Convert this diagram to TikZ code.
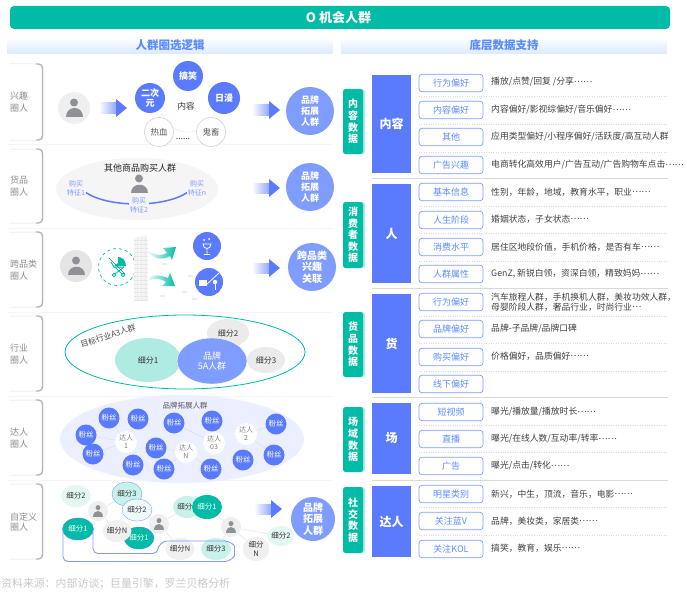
\documentclass[tikz,border=0pt]{standalone}
\usepackage{fontspec}
\setmainfont{Noto Sans CJK SC}
\usetikzlibrary{shapes.geometric,arrows.meta,shadings}
\definecolor{tealmain}{HTML}{00BBA6}
\definecolor{tealsoft}{HTML}{B0EBE2}
\definecolor{tealpale}{HTML}{E3F7F3}
\definecolor{bluemain}{HTML}{5B7BFF}
\definecolor{bluesoft}{HTML}{7F9CFF}
\definecolor{bluetext}{HTML}{5B8CFF}
\definecolor{bandblue}{HTML}{DCE9FF}
\definecolor{graypale}{HTML}{EEEFF1}
\definecolor{personcol}{HTML}{8F9196}
\newcommand{\fs}[1]{\fontsize{#1}{12}\selectfont}
\newcommand{\mdots}{\raisebox{0.32em}{……}}
\tikzset{
  band/.style={inner sep=0pt,text=bluetext,font=\fs{11.5}\bfseries},
  rowlabel/.style={anchor=west,inner sep=0pt,align=left,text=black!45,font=\fontsize{9}{12.5}\selectfont},
  brandnode/.style={circle,fill=bluesoft,text=white,minimum size=48pt,inner sep=0pt,align=center,font=\fontsize{9}{11}\selectfont\bfseries},
  topicnode/.style={circle,fill=bluemain,text=white,minimum size=30pt,inner sep=0pt,align=center,font=\fontsize{9}{10.5}\selectfont\bfseries},
  topicpale/.style={circle,draw=black!25,fill=white,text=black!65,minimum size=29pt,inner sep=0pt,font=\fs{8.5}},
  buylabel/.style={inner sep=1pt,fill=black!4,text=bluesoft,align=center,font=\fontsize{7}{9}\selectfont},
  plain/.style={inner sep=0pt,text=black!80,font=\fs{8.5}},
  segnode/.style={ellipse,inner sep=0pt,text=black!80,align=center,font=\fontsize{7.5}{9}\selectfont},
  fannode/.style={circle,fill=bluemain,text=white,minimum size=21pt,inner sep=0pt,font=\fs{7.5}},
  hubnode/.style={circle,fill=white,text=black!50,minimum size=22pt,inner sep=0pt,align=center,font=\fontsize{7}{8}\selectfont},
  linkline/.style={draw=black!12,line width=0.5pt},
  persondisc/.style={circle,fill=graypale,minimum size=20pt,inner sep=0pt},
  datatag/.style={rounded corners=2.5pt,fill=tealmain,text=white,minimum width=20pt,inner sep=0pt,align=center,font=\fontsize{10}{11.6}\selectfont\bfseries},
  column/.style={fill=bluemain,text=white,minimum width=39pt,inner sep=0pt,font=\fs{12}\bfseries},
  pill/.style={draw=bluesoft,line width=0.7pt,rounded corners=3pt,fill=white,text=bluetext,minimum width=64pt,minimum height=17.5pt,inner sep=0pt,font=\fs{9}},
  desc/.style={anchor=west,inner sep=0pt,align=left,text=black!75,font=\fontsize{8.8}{10.5}\selectfont},
  personpic/.pic={
    \fill[personcol] (0,-5.5) circle (4);
    \fill[personcol] (-8.5,9) .. controls (-8.5,-2.5) and (8.5,-2.5) .. (8.5,9) -- cycle;
  }
}
\newcommand{\bigarrow}[2]{%
  \shade[left color=white,right color=bluemain!70] (#1-28,#2-5) rectangle (#1-10,#2+5);
  \fill[bluemain] (#1-11,#2-9) -- (#1,#2) -- (#1-11,#2+9) -- cycle;
}
\newcommand{\rowbox}[2]{%
  \draw[black!12,line width=0.5pt,rounded corners=4pt] (10,#1) -- (43,#1) -- (43,#2) -- (10,#2);
  \draw[black!28,line width=1.4pt,rounded corners=4pt] (36,#1) -- (42.5,#1) -- (42.5,#2) -- (36,#2);
}
\newcommand{\tagback}[2]{%
  \fill[tealsoft,rounded corners=2.5pt] (345,#1) rectangle (365,#2);
}
\begin{document}
\begin{tikzpicture}[x=1pt,y=-1pt]
\useasboundingbox (0,0) rectangle (687,599);
\node[rounded corners=4pt,fill=tealmain,text=white,minimum width=660pt,minimum height=23pt,inner sep=0pt,font=\fs{13}\bfseries] (title) at (340,17.5) {\hspace*{-3pt}O 机会人群};
\shade[top color=white,bottom color=bandblue] (7,37) rectangle (333,54);
\shade[top color=white,bottom color=bandblue] (341,37) rectangle (667,54);
\node[band] (leftband) at (170,45) {人群圈选逻辑};
\node[band] (rightband) at (504,45) {底层数据支持};
\foreach \y in {144,228,312,396,480}
  \draw[black!4,line width=0.5pt] (7,\y) -- (333,\y);
\rowbox{64}{140}
\rowbox{149}{223}
\rowbox{232}{307}
\rowbox{316}{391}
\rowbox{400}{475}
\rowbox{484}{559}
\node[rowlabel] (lxq) at (10,102) {兴趣\\圈人};
\node[rowlabel] (lhp) at (10,186) {货品\\圈人};
\node[rowlabel] (lkp) at (10,270) {跨品类\\圈人};
\node[rowlabel] (lhy) at (10,354) {行业\\圈人};
\node[rowlabel] (ldr) at (10,438) {达人\\圈人};
\node[rowlabel,font=\fontsize{9}{10}\selectfont] (lzd) at (10,522) {自定义\\圈人};
\node[circle,fill=graypale,minimum size=32pt,inner sep=0pt] (p1) at (74,108) {};
\pic at (p1) {personpic};
\bigarrow{127}{108}
\node[circle,draw=tealpale,line width=0.8pt,minimum size=56pt,inner sep=0pt] (ring) at (188,104) {};
\node[topicnode] (gx) at (188,76) {搞笑};
\node[topicnode] (ecy) at (150,98) {二次\\元};
\node[topicnode,minimum size=32pt] (rm) at (224,98) {日漫};
\node[plain] (nr) at (186,106) {内容};
\node[topicpale] (rx) at (159,132) {热血};
\node[topicpale] (gc) at (211,132) {鬼畜};
\node[plain] (dots) at (183,139) {......};
\bigarrow{280}{110}
\node[brandnode] (b1) at (310,111) {品牌\\拓展\\人群};
\node[ellipse,fill=black!4,minimum width=162pt,minimum height=62pt,inner sep=0pt] (e2) at (137,189) {};
\node[inner sep=0pt,text=black!85,font=\fs{9}] (e2t) at (140,168) {其他商品购买人群};
\pic at (139,184) {personpic};
\draw[bluemain,line width=1.5pt] (85,192) .. controls (108,208) and (165,208) .. (188,192);
\node[buylabel] (t1) at (76,188) {购买\\特征1};
\node[buylabel] (t2) at (139,205) {购买\\特征2};
\node[buylabel] (tn) at (197,188) {购买\\特征n};
\bigarrow{280}{188}
\node[brandnode] (b2) at (310,187) {品牌\\拓展\\人群};
\node[circle,fill=black!10,minimum size=32pt,inner sep=0pt] (p3) at (76,266) {};
\pic at (p3) {personpic};
\node[circle,draw=tealmain,dashed,line width=0.7pt,minimum size=37pt,inner sep=0pt] (dash) at (117,267) {};
\fill[tealmain] (114,266) -- (126,266) .. controls (126,260) and (122,257) .. (118,257) -- (118,263) -- cycle;
\draw[tealmain,line width=1pt] (111,262) -- (114,267) -- (124,267);
\draw[tealmain,line width=0.8pt] (115,267) -- (122,274) (124,267) -- (115,274);
\draw[tealmain,line width=0.8pt,fill=white] (114,275) circle (1.8) (123,275) circle (1.8);
\draw[tealmain!80!black,line width=0.5pt] (109,258) -- (125,274);
\fill[black!4] (134,238) -- (147,235) -- (148,300) -- (134,300) -- cycle;
\foreach \y in {240,244,...,300}
  \draw[black!10,line width=0.4pt] (134,\y) -- (147.5,\y);
\foreach \x in {137,141,145}
  \draw[black!8,line width=0.3pt] (\x,237) -- (\x,300);
\foreach \x/\y in {162/263,182/291,192/298,160/295,188/275}
  \fill[black!7] (\x,\y) rectangle ++(5,1.5);
\shade[left color=tealmain!5,right color=tealmain] (148,250) .. controls (155,256) and (161,256) .. (167,253) -- (163,248) -- (176,247) -- (172,260) -- (170,256) .. controls (162,261) and (154,258) .. (148,253) -- cycle;
\shade[left color=tealmain!5,right color=tealmain] (148,278) .. controls (154,274) and (161,275) .. (168,278) -- (170,273) -- (175,286) -- (162,286) -- (166,282) .. controls (160,278) and (154,278) .. (148,281) -- cycle;
\node[circle,fill=bluemain,minimum size=28pt,inner sep=0pt] (wine) at (207,246) {};
\draw[white,line width=0.8pt] (203,244) .. controls (203,250) and (211,250) .. (211,244) -- cycle (207,249) -- (207,254) (204,254.5) -- (210,254.5);
\fill[white] (204,240) circle (1) (209,239) circle (1);
\node[circle,fill=bluemain,minimum size=28pt,inner sep=0pt] (golf) at (209,282) {};
\draw[white,line width=0.8pt] (219,273) -- (206,285);
\fill[white] (199,280) rectangle (207,286);
\fill[white] (215,282) circle (2.2);
\draw[white,line width=0.8pt] (215,284) -- (215,290);
\bigarrow{280}{268}
\node[brandnode,font=\fontsize{10}{11.5}\selectfont\bfseries] (b3) at (312,267) {跨品类\\兴趣\\关联};
\node[ellipse,draw=tealmain,line width=0.8pt,fill=white,minimum width=240pt,minimum height=74pt,inner sep=0pt] (e4) at (185,352) {};
\node[plain,rotate=18,text=black!70,font=\fs{8}] (e4t) at (108,336) {目标行业A3人群};
\node[segnode,fill=black!8,minimum width=42pt,minimum height=28pt,font=\fs{8}] (s2) at (228,333) {细分2};
\node[segnode,fill=black!8,minimum width=38pt,minimum height=26pt,font=\fs{8}] (s3) at (266,360) {细分3};
\node[segnode,fill=tealsoft,minimum width=66pt,minimum height=44pt,font=\fs{8}] (s1) at (148,360) {细分1};
\node[segnode,draw=white,fill=bluesoft,text=white,minimum width=70pt,minimum height=46pt,font=\fontsize{9}{10.5}\selectfont] (s5a) at (212,361) {品牌\\5A人群};
\node[ellipse,fill=bluemain!12,minimum width=244pt,minimum height=88pt,inner sep=0pt] (e5) at (182,439) {};
\node[plain,text=black!65,font=\fs{7.5}] (e5t) at (185,406) {品牌拓展人群};
\node[hubnode] (h1) at (126,442) {达人\\1};
\node[hubnode] (hn) at (186,452) {达人\\N};
\node[hubnode] (h3) at (214,443) {达人\\03};
\node[hubnode] (h2) at (246,434) {达人\\2};
\node[fannode] (f1) at (109,418) {粉丝};
\node[fannode] (f2) at (138,419) {粉丝};
\node[fannode] (f3) at (86,435) {粉丝};
\node[fannode] (f4) at (93,454) {粉丝};
\node[fannode] (f5) at (133,465) {粉丝};
\node[fannode] (f6) at (174,423) {粉丝};
\node[fannode] (f7) at (212,421) {粉丝};
\node[fannode] (f8) at (156,448) {粉丝};
\node[fannode] (f9) at (164,469) {粉丝};
\node[fannode] (f10) at (211,469) {粉丝};
\node[fannode] (f11) at (276,424) {粉丝};
\node[fannode] (f12) at (274,455) {粉丝};
\node[fannode] (f13) at (243,460) {粉丝};
\foreach \a/\b in {h1/f1,h1/f2,h1/f3,h1/f4,h1/f5,hn/f8,hn/f9,hn/f10,h3/f6,h3/f7,h2/f11,h2/f12,h2/f13}
  \draw[linkline] (\a) -- (\b);
\node[persondisc] (q1) at (98,511) {};
\node[persondisc] (q2) at (159,524) {};
\node[persondisc] (q3) at (231,527) {};
\node[segnode,fill=tealpale,minimum width=30pt,minimum height=22pt] (c1) at (76,496) {细分2};
\node[segnode,draw=bluesoft,fill=tealsoft!70,minimum width=30pt,minimum height=24pt] (c2) at (127,494) {细分3};
\node[segnode,draw=bluesoft,fill=tealpale!50,minimum width=30pt,minimum height=22pt] (c3) at (137,510) {细分2};
\node[segnode,draw=bluemain,fill=tealmain,text=white,minimum width=31pt,minimum height=22pt] (c4) at (78,529) {细分1};
\node[segnode,draw=bluemain,fill=tealmain,text=white,minimum width=30pt,minimum height=22pt] (c5) at (139,538) {细分1};
\node[segnode,fill=black!6,minimum width=26pt,minimum height=22pt] (c6) at (117,531) {细分N};
\node[segnode,fill=tealsoft!70,minimum width=28pt,minimum height=22pt,text=black!80,align=left] (c7) at (187,507) {细分\phantom{1}};
\node[segnode,fill=tealmain,text=white,minimum width=30pt,minimum height=24pt] (c8) at (207,507) {细分1};
\node[segnode,fill=black!6,minimum width=28pt,minimum height=22pt] (c9) at (180,549) {细分N};
\node[segnode,fill=tealsoft!70,minimum width=30pt,minimum height=22pt] (c10) at (216,549) {细分3};
\node[segnode,fill=black!6,minimum width=27pt,minimum height=24pt] (c11) at (256,549) {细分\\N};
\node[segnode,fill=tealpale,minimum width=26pt,minimum height=20pt] (c12) at (281,536) {细分2};
\pic[scale=0.62] at (q1) {personpic};
\pic[scale=0.62] at (q2) {personpic};
\pic[scale=0.62] at (q3) {personpic};
\foreach \a/\b in {q1/c2,q1/c6,q2/c7,q2/c9,q3/c8,q3/c10,q3/c11,q3/c12}
  \draw[linkline] (\a) -- (\b);
\draw[bluesoft,line width=0.9pt,rounded corners=5pt] (63,527) -- (63,561.5) -- (220,561.5) .. controls (230,561.5) and (234.5,556) .. (234.5,551) .. controls (234.5,545) and (229,541) .. (220,541) -- (172,541) .. controls (163,541) and (158,546) .. (158,553.5) -- (93,553.5) -- (93,530);
\bigarrow{282}{509}
\node[brandnode,minimum size=44pt,font=\fontsize{10}{11.5}\selectfont\bfseries] (b6) at (313,519) {品牌\\拓展\\人群};
\node[anchor=west,inner sep=0pt,text=black!22,font=\fs{10.9}] (src) at (1,584) {资料来源：内部访谈；巨量引擎，罗兰贝格分析};
\foreach \y in {96,124,152,206,233,261,316,343,371,425,452,507,535}
  \draw[black!14,line width=0.4pt,dotted] (419,\y) -- (668,\y);
\foreach \y in {178,288,397,480}
  \draw[black!15,line width=0.9pt] (372,\y) -- (668,\y);
\tagback{89}{154}
\tagback{202}{268}
\tagback{312}{377}
\tagback{407}{472}
\tagback{487}{553}
\node[datatag,minimum height=65pt] (dg1) at (353,121.5) {内\\容\\数\\据};
\node[datatag,minimum height=66pt] (dg2) at (353,235) {消\\费\\者\\数\\据};
\node[datatag,minimum height=65pt] (dg3) at (353,344.5) {货\\品\\数\\据};
\node[datatag,minimum height=65pt] (dg4) at (353,439.5) {场\\域\\数\\据};
\node[datatag,minimum height=66pt] (dg5) at (353,520) {社\\交\\数\\据};
\node[column,minimum height=98pt] (col1) at (391.5,124) {内容};
\node[column,minimum height=99pt] (col2) at (391.5,233.5) {人};
\node[column,minimum height=99pt] (col3) at (391.5,343.5) {货};
\node[column,minimum height=71pt] (col4) at (391.5,438.5) {场};
\node[column,minimum height=71pt] (col5) at (391.5,521.5) {达人};
\node[pill] (a1) at (451,83) {行为偏好};
\node[pill] (a2) at (451,110) {内容偏好};
\node[pill] (a3) at (451,137) {其他};
\node[pill] (a4) at (451,165) {广告兴趣};
\node[pill] (a5) at (451,192) {基本信息};
\node[pill] (a6) at (451,220) {人生阶段};
\node[pill] (a7) at (451,247) {消费水平};
\node[pill] (a8) at (451,274) {人群属性};
\node[pill] (a9) at (451,302) {行为偏好};
\node[pill] (a10) at (451,329) {品牌偏好};
\node[pill] (a11) at (451,357) {购买偏好};
\node[pill] (a12) at (451,384) {线下偏好};
\node[pill] (a13) at (451,412) {短视频};
\node[pill] (a14) at (451,439) {直播};
\node[pill] (a15) at (451,466) {广告};
\node[pill] (a16) at (451,494) {明星类别};
\node[pill] (a17) at (451,521) {关注蓝V};
\node[pill] (a18) at (451,549) {关注KOL};
\node[desc] (d1) at (491,82) {播放/点赞/回复 /分享\mdots};
\node[desc] (d2) at (491,110) {内容偏好/影视综偏好/音乐偏好\mdots};
\node[desc] (d3) at (491,137) {应用类型偏好/小程序偏好/活跃度/高互动人群};
\node[desc] (d4) at (491,165) {电商转化高效用户/广告互动/广告购物车点击\mdots};
\node[desc] (d5) at (491,192) {性别，年龄，地域，教育水平，职业\mdots};
\node[desc] (d6) at (491,219) {婚姻状态，子女状态\mdots};
\node[desc] (d7) at (491,247) {居住区地段价值，手机价格，是否有车\mdots};
\node[desc] (d8) at (491,274) {GenZ, 新锐白领，资深白领，精致妈妈\mdots};
\node[desc] (d9) at (491,302) {汽车旅程人群，手机换机人群，美妆功效人群，\\母婴阶段人群，奢品行业，时尚行业\raisebox{0.32em}{…}};
\node[desc] (d10) at (491,329) {品牌-子品牌/品牌口碑};
\node[desc] (d11) at (491,356) {价格偏好，品质偏好\mdots};
\node[desc] (d13) at (491,412) {曝光/播放量/播放时长\mdots};
\node[desc] (d14) at (491,439) {曝光/在线人数/互动率/转率\mdots};
\node[desc] (d15) at (491,466) {曝光/点击/转化\mdots};
\node[desc] (d16) at (491,494) {新兴，中生，顶流，音乐，电影\mdots};
\node[desc] (d17) at (491,521) {品牌，美妆类，家居类\mdots};
\node[desc] (d18) at (491,548) {搞笑，教育，娱乐\mdots};
\end{tikzpicture}
\end{document}
